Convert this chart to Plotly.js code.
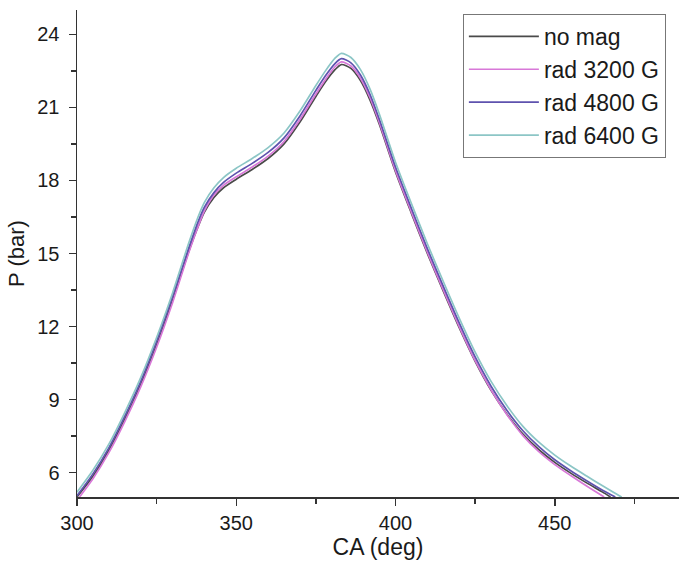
<!DOCTYPE html>
<html>
<head>
<meta charset="utf-8">
<script src="https://cdn.plot.ly/plotly-3.0.1.min.js"></script>
<style>html,body{margin:0;padding:0;background:#fff}#chart{width:679px;height:569px}</style>
</head>
<body>
<div id="chart"></div>
<script>
// Crank angle (deg) and cylinder pressure (bar) for each case
const caNoMag = [300,305,310,315,320,325,330,335,338,340,343,346,350,355,360,365,370,375,378,381,383,386,389,392,395,400,405,410,415,420,425,430,435,440,445,450,455,460,465,467.5];
const pNoMag  = [5.0,5.85,6.92,8.2,9.62,11.25,13.08,15.05,16.1,16.7,17.3,17.7,18.05,18.45,18.9,19.5,20.4,21.45,22.05,22.55,22.76,22.6,22.1,21.3,20.28,18.35,16.65,15.0,13.45,11.95,10.57,9.38,8.4,7.58,6.94,6.42,5.98,5.58,5.2,5.0];

const ca3200 = [300.8,305,310,315,320,325,330,335,338,340,343,346,350,355,360,365,370,375,378,381,383,386,389,392,395,400,405,410,415,420,425,430,435,440,445,450,455,460,465.5];
const p3200  = [5.0,5.75,6.82,8.1,9.52,11.15,12.98,15.0,16.1,16.75,17.4,17.8,18.15,18.55,19.0,19.6,20.5,21.55,22.15,22.67,22.87,22.7,22.2,21.4,20.35,18.4,16.7,15.05,13.5,12.0,10.6,9.4,8.38,7.52,6.86,6.33,5.88,5.45,5.0];

const ca4800 = [300,305,310,315,320,325,330,335,338,340,343,346,350,355,360,365,370,375,378,381,383,386,389,392,395,400,405,410,415,420,425,430,435,440,445,450,455,460,465,469];
const p4800  = [5.05,5.95,7.02,8.32,9.75,11.4,13.23,15.2,16.3,16.9,17.5,17.92,18.3,18.7,19.15,19.75,20.65,21.7,22.3,22.8,23.0,22.83,22.33,21.53,20.48,18.55,16.85,15.2,13.65,12.15,10.75,9.55,8.55,7.72,7.07,6.53,6.08,5.67,5.28,5.0];

const ca6400 = [300,305,310,315,320,325,330,335,338,340,343,346,350,355,360,365,370,375,378,381,383,386,389,392,395,400,405,410,415,420,425,430,435,440,445,450,455,460,465,470,471];
const p6400  = [5.2,6.1,7.17,8.47,9.9,11.55,13.38,15.4,16.5,17.1,17.7,18.12,18.5,18.9,19.35,19.95,20.85,21.9,22.5,23.02,23.22,23.05,22.55,21.75,20.7,18.75,17.05,15.4,13.85,12.35,10.95,9.75,8.75,7.9,7.25,6.72,6.27,5.86,5.46,5.07,5.0];

const names = ["no mag","rad 3200 G","rad 4800 G","rad 6400 G"];
const colors = ["#4a4a4a","#d878d8","#5e52ae","#8cc6c6"];

const xs = [caNoMag, ca3200, ca4800, ca6400];
const ys = [pNoMag, p3200, p4800, p6400];

const traces = names.map((n,i)=>({
  x: xs[i], y: ys[i], name: n, type:'scatter', mode:'lines',
  line:{color: colors[i], width: 1.7, shape:'spline', smoothing:0.7}
}));

const fam = '"Liberation Sans", Arial, sans-serif';
const txt = '#1a1a1a';
const layout = {
  width:679, height:569,
  margin:{l:77, r:0, t:10, b:72},
  paper_bgcolor:'#fff', plot_bgcolor:'#fff',
  font:{family:fam, color:txt},
  showlegend:true,
  legend:{
    x:0.641, y:0.992, xanchor:'left', yanchor:'top',
    bordercolor:'#777', borderwidth:1, bgcolor:'#fff',
    font:{family:fam, size:23, color:txt},
    itemwidth:70,
    tracegroupgap:0
  },
  xaxis:{
    range:[300,489], dtick:50, tick0:0,
    showline:true, linecolor:'#333', linewidth:1.5,
    ticks:'outside', ticklen:7, tickwidth:1.5, tickcolor:'#333',
    minor:{dtick:25, tick0:0, ticks:'outside', ticklen:5, tickwidth:1.5, tickcolor:'#333'},
    showgrid:false, zeroline:false, mirror:false,
    tickfont:{family:fam, size:20, color:txt},
    title:{text:'CA (deg)', font:{family:fam, size:23, color:txt}, standoff:6}
  },
  yaxis:{
    range:[5,25], dtick:3, tick0:0,
    showline:true, linecolor:'#333', linewidth:1.5,
    ticks:'outside', ticklen:7, tickwidth:1.5, tickcolor:'#333',
    minor:{dtick:1.5, tick0:0, ticks:'outside', ticklen:5, tickwidth:1.5, tickcolor:'#333'},
    showgrid:false, zeroline:false, mirror:false,
    ticklabelstandoff:5,
    tickfont:{family:fam, size:20, color:txt},
    title:{text:'P (bar)', font:{family:fam, size:22, color:txt}, standoff:6}
  }
};
Plotly.newPlot('chart', traces, layout, {displayModeBar:false, staticPlot:true});
</script>
</body>
</html>
